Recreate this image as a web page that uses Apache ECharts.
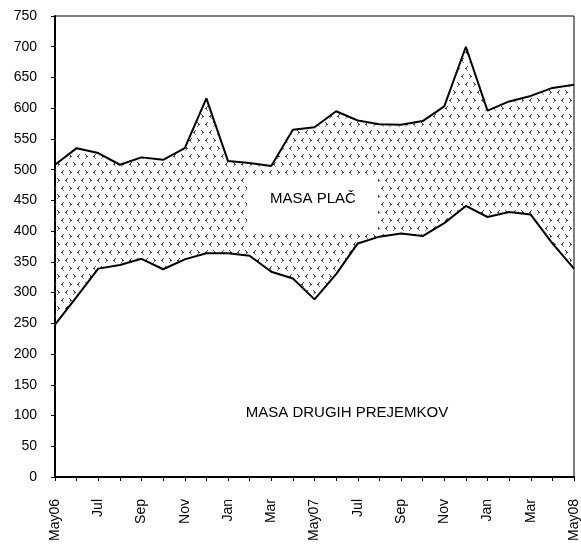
<!DOCTYPE html>
<html>
<head>
<meta charset="utf-8">
<script src="https://cdn.jsdelivr.net/npm/echarts@6/dist/echarts.min.js"></script>
<style>
  html, body { margin: 0; padding: 0; background: #fff; }
  #main { width: 581px; height: 550px; }
</style>
</head>
<body>
<div id="main"></div>
<script type="text/javascript">
// mesci maj 2006 - maj 2008
var months = ['May06','Jun','Jul','Aug','Sep','Oct','Nov','Dec','Jan','Feb','Mar','Apr',
              'May07','Jun','Jul','Aug','Sep','Oct','Nov','Dec','Jan','Feb','Mar','Apr','May08'];
// masa drugih prejemkov (spodnja crta)
var drugi = [248,293,339,345,355,338,354,364,364,360,334,323,
             289,330,380,391,396,392,413,441,423,431,427,380,339];
// skupaj (zgornja crta)
var skupaj = [508,535,527,508,520,516,535,616,514,511,506,565,
              569,595,580,574,573,579,603,700,596,611,620,633,638];
var yTicks = {min: 0, max: 750, step: 50};

// razlika = masa plac
var place = [];
for (var i = 0; i < skupaj.length; i++) {
    place.push(skupaj[i] - drugi[i]);
}

// vzorec < > za polnilo
function makePattern() {
    var c = document.createElement('canvas');
    c.width = 16; c.height = 16;
    var g = c.getContext('2d');
    function lt(x, y) { // <
        g.fillStyle = '#444';
        g.fillRect(x + 2, y, 1, 1);
        g.fillRect(x + 1, y + 1, 1, 1);
        g.fillRect(x, y + 2, 2, 1);
        g.fillStyle = '#888';
        g.fillRect(x + 1, y + 3, 1, 1);
        g.fillRect(x + 2, y + 4, 1, 1);
    }
    function gt(x, y) { // >
        g.fillStyle = '#444';
        g.fillRect(x, y, 1, 1);
        g.fillRect(x + 1, y + 1, 1, 1);
        g.fillRect(x + 1, y + 2, 2, 1);
        g.fillStyle = '#888';
        g.fillRect(x + 1, y + 3, 1, 1);
        g.fillRect(x, y + 4, 1, 1);
    }
    lt(1, 2); gt(9, 2);
    gt(5, 10); lt(13, 10);
    return c;
}

var myChart = echarts.init(document.getElementById('main'));
myChart.setOption({
    animation: false,
    textStyle: { fontFamily: 'Liberation Sans, Arial, sans-serif' },
    grid: {
        left: 55, right: 7, top: 16, bottom: 73,
        show: true, borderColor: '#000', borderWidth: 1
    },
    xAxis: {
        type: 'category',
        boundaryGap: false,
        data: months,
        axisLine: { lineStyle: { color: '#000', width: 2 } },
        axisTick: { show: true, interval: 0, length: 4, lineStyle: { color: '#000' } },
        axisLabel: { interval: 1, rotate: 90, margin: 22, color: '#000', fontSize: 14 }
    },
    yAxis: {
        type: 'value',
        min: yTicks.min, max: yTicks.max, interval: yTicks.step,
        splitLine: { show: false },
        axisLine: { show: true, lineStyle: { color: '#000', width: 2 } },
        axisTick: { show: true, length: 4, lineStyle: { color: '#000' } },
        axisLabel: { color: '#000', fontSize: 14, margin: 18 }
    },
    series: [
        {
            name: 'MASA DRUGIH PREJEMKOV',
            type: 'line',
            stack: 'skupaj',
            data: drugi,
            symbol: 'none',
            lineStyle: { color: '#000', width: 2 },
            areaStyle: { opacity: 0 }
        },
        {
            name: 'MASA PLAČ',
            type: 'line',
            stack: 'skupaj',
            data: place,
            symbol: 'none',
            lineStyle: { color: '#000', width: 2 },
            areaStyle: { color: { image: makePattern(), repeat: 'repeat' }, opacity: 1 }
        }
    ],
    graphic: [
        {
            type: 'rect', z: 10,
            shape: { x: 247, y: 177, width: 131, height: 56 },
            style: { fill: '#fff' }
        },
        {
            type: 'text', z: 11, x: 313, y: 199,
            style: { text: 'MASA PLAČ', fill: '#000', font: '15px Liberation Sans, Arial, sans-serif',
                     align: 'center', verticalAlign: 'middle' }
        },
        {
            type: 'text', z: 11, x: 347, y: 413,
            style: { text: 'MASA DRUGIH PREJEMKOV', fill: '#000', font: '15px Liberation Sans, Arial, sans-serif',
                     align: 'center', verticalAlign: 'middle' }
        }
    ]
});
</script>
</body>
</html>
